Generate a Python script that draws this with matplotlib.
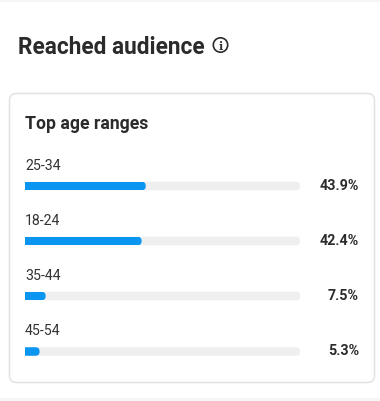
#!/usr/bin/python
import matplotlib
matplotlib.use('Agg')
import matplotlib.pyplot as plt
from matplotlib.patches import FancyBboxPatch, Circle, Rectangle

# data
ages = ['25-34', '18-24', '35-44', '45-54']
shares = [43.9, 42.4, 7.5, 5.3]
share_labels = ['43.9%', '42.4%', '7.5%', '5.3%']

W, H = 380, 402
plt.rcParams['font.family'] = ['Roboto', 'DejaVu Sans']
blue = '#0a95f0'
track = '#efefef'
dark = '#2b2b2b'

fig = plt.figure(figsize=(W/100, H/100), dpi=100, facecolor='white')

# page furniture, in pixel coords
bg = fig.add_axes([0, 0, 1, 1])
bg.set_xlim(0, W)
bg.set_ylim(H, 0)
bg.axis('off')
bg.add_patch(Rectangle((0, 0), W, 2.5, fc='#f5f5f5', ec='none'))
bg.add_patch(Rectangle((0, 398.5), W, 3.5, fc='#f5f5f5', ec='none'))
bg.add_patch(FancyBboxPatch((9.5, 94.5), 365, 289, boxstyle='round,pad=0,rounding_size=7',
                            fc='white', ec='#e2e2e2', lw=1.1))
bg.text(17.5, 48, 'Reached audience', fontsize=16.3, fontweight='bold', color=dark, va='center')
bg.add_patch(Circle((220.5, 46), 7.2, fc='none', ec=dark, lw=1.2))
bg.text(220.5, 46.3, 'i', fontsize=8, fontweight='bold', family='DejaVu Serif', color=dark,
        ha='center', va='center')
bg.text(25, 124, 'Top age ranges', fontsize=12.7, fontweight='bold', color=dark, va='center')

# bars: x is percent, y is pixels down from the first row
ax = fig.add_axes([25/W, 0, 275/W, 1])
ax.set_xlim(0, 100)
ax.set_ylim(H, 0)
ax.axis('off')
ax.patch.set_alpha(0)

px = 100/275.0  # percent per pixel
bar_h = 8.5
rows = [187, 242, 297, 352.5]
for y, age, v, lab in zip(rows, ages, shares, share_labels):
    ax.add_patch(FancyBboxPatch((0, y-bar_h/2), 100, bar_h,
                                boxstyle='round,pad=0,rounding_size=%f' % (4*px),
                                mutation_aspect=1/px, fc=track, ec='none'))
    clip = FancyBboxPatch((-5, y-bar_h/2), v+5, bar_h,
                          boxstyle='round,pad=0,rounding_size=%f' % (4*px),
                          mutation_aspect=1/px, transform=ax.transData)
    b = ax.barh(y, v, height=bar_h, color=blue)
    b[0].set_clip_path(clip)
    ax.text(0, y-21, age, fontsize=10.2, color='#333333', va='center', ha='left')
    bg.text(359, y-1, lab, fontsize=10.3, fontweight='bold', color=dark, va='center', ha='right')

fig.savefig('out.png', dpi=100)
